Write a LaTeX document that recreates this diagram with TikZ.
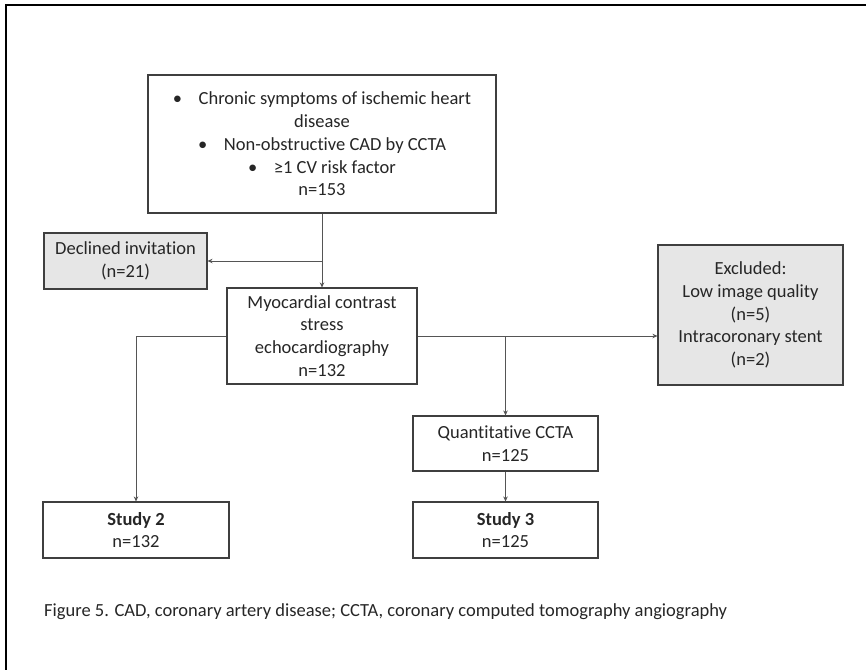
\documentclass[tikz,border=0pt]{standalone}
\usepackage{fontspec}
\setmainfont{Carlito}[Ligatures={NoCommon}]
\usetikzlibrary{arrows.meta}
\definecolor{boxline}{HTML}{3F3F3F}
\definecolor{connline}{HTML}{555555}
\definecolor{grayfill}{HTML}{E6E6E6}
\definecolor{txt}{HTML}{262626}
\begin{document}
\begin{tikzpicture}[x=1pt,y=-1pt,
  box/.style={draw=boxline,line width=1.1pt,fill=white,align=center,inner sep=0pt,text=txt,
    font=\fontsize{18.5}{22.8}\selectfont},
  graybox/.style={box,fill=grayfill},
  conn/.style={draw=connline,line width=0.7pt,-{Stealth[length=5pt,width=4.5pt]}},
  plain/.style={draw=connline,line width=0.7pt}]
\useasboundingbox (0,0) rectangle (866,670);
\draw[line width=1.6pt,black] (866,5) -- (6,5) -- (6,670);
\node[box,minimum width=348,minimum height=138] (top) at (322,144)
  {•\hspace{0.9em}Chronic symptoms of ischemic heart\\ disease\\
   •\hspace{0.9em}Non-obstructive CAD by CCTA\\
   •\hspace{0.9em}≥1 CV risk factor\\ n=153};
\node[graybox,minimum width=163,minimum height=56] (decl) at (125.5,261)
  {Declined invitation\\ (n=21)};
\node[box,minimum width=190,minimum height=96] (myo) at (322,336)
  {Myocardial contrast\\ stress\\ echocardiography\\ n=132};
\node[graybox,minimum width=185,minimum height=140] (excl) at (750.5,315)
  {Excluded:\\ Low image quality\\ (n=5)\\ Intracoronary stent\\ (n=2)};
\node[box,minimum width=185,minimum height=55] (quant) at (505.5,443.5)
  {Quantitative CCTA\\ n=125};
\node[box,minimum width=185,minimum height=56] (s3) at (505.5,530)
  {\textbf{Study 3}\\ n=125};
\node[box,minimum width=186,minimum height=56] (s2) at (136,530)
  {\textbf{Study 2}\\ n=132};
\coordinate (j1) at (322,261);
\coordinate (j2) at (505.5,336);
\draw[conn] (top.south) -- (myo.north);
\draw[conn] (j1) -- (decl.east);
\draw[conn] (myo.east) -- (myo.east -| excl.west);
\draw[conn] (j2) -- (quant.north);
\draw[conn] (myo.west) -| (s2.north);
\draw[conn] (quant.south) -- (s3.north);
\node[anchor=west,inner sep=0pt,text=txt,font=\fontsize{18.5}{22}\selectfont] (cap) at (44,612)
  {Figure 5. CAD, coronary artery disease; CCTA, coronary computed tomography angiography};
\end{tikzpicture}
\end{document}
